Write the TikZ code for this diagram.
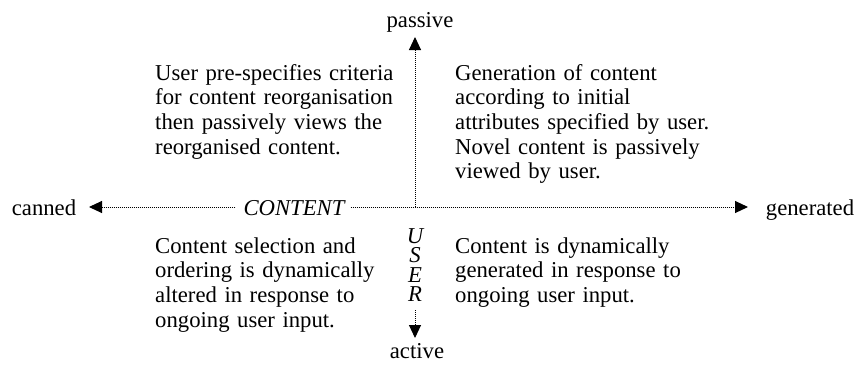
\documentclass[tikz,border=0pt]{standalone}
\usepackage{fontspec}
\setmainfont{Liberation Serif}
\usetikzlibrary{arrows.meta}
\begin{document}
\begin{tikzpicture}[x=1pt,y=-1pt,
  txt/.style={inner sep=0pt, font=\fontsize{22.7}{24.7}\selectfont},
  para/.style={txt, anchor=base west, align=left, text width=300pt},
  lbl/.style={txt, anchor=base},
  axis/.style={line width=1pt, dash pattern=on 1pt off 1pt},
  tip/.style={-{Triangle[length=13pt,width=12pt]}}]
\useasboundingbox (0,0) rectangle (858,383);
\coordinate (O) at (415,207);
% labels
\node[lbl] (passive) at (420,27) {passive};
\node[lbl] (active) at (417,358) {active};
\node[lbl] (canned) at (44,215) {canned};
\node[lbl] (generated) at (810,215) {generated};
\node[lbl, font=\fontsize{22.7}{24.7}\selectfont\itshape] (content) at (294,215) {CONTENT};
\node[txt, anchor=base, align=center, text width=24pt, font=\fontsize{22.7}{19.6}\selectfont\itshape] (user) at (415,243) {U\\S\\E\\R};
% tip coordinates
\coordinate (ptip) at (415,37);
\coordinate (atip) at (415,338);
\coordinate (ctip) at (89,207);
\coordinate (gtip) at (748,207);
\coordinate (ustart) at (415,310);
% axes
\draw[axis, tip] (content.west |- O) ++(-8,0) -- (ctip);
\draw[axis, tip] (content.east |- O) ++(6,0) -- (gtip);
\draw[axis, tip] (O) -- (ptip);
\draw[axis, tip] (ustart) -- (atip);
% quadrant texts
\node[para] (tl) at (155,80) {User pre-specifies criteria\\for content reorganisation\\then passively views the\\reorganised content.};
\node[para] (tr) at (455,80) {Generation of content\\according to initial\\attributes specified by user.\\Novel content is passively\\viewed by user.};
\node[para] (bl) at (155,253) {Content selection and\\ordering is dynamically\\altered in response to\\ongoing user input.};
\node[para] (br) at (455,253) {Content is dynamically\\generated in response to\\ongoing user input.};
\end{tikzpicture}
\end{document}
